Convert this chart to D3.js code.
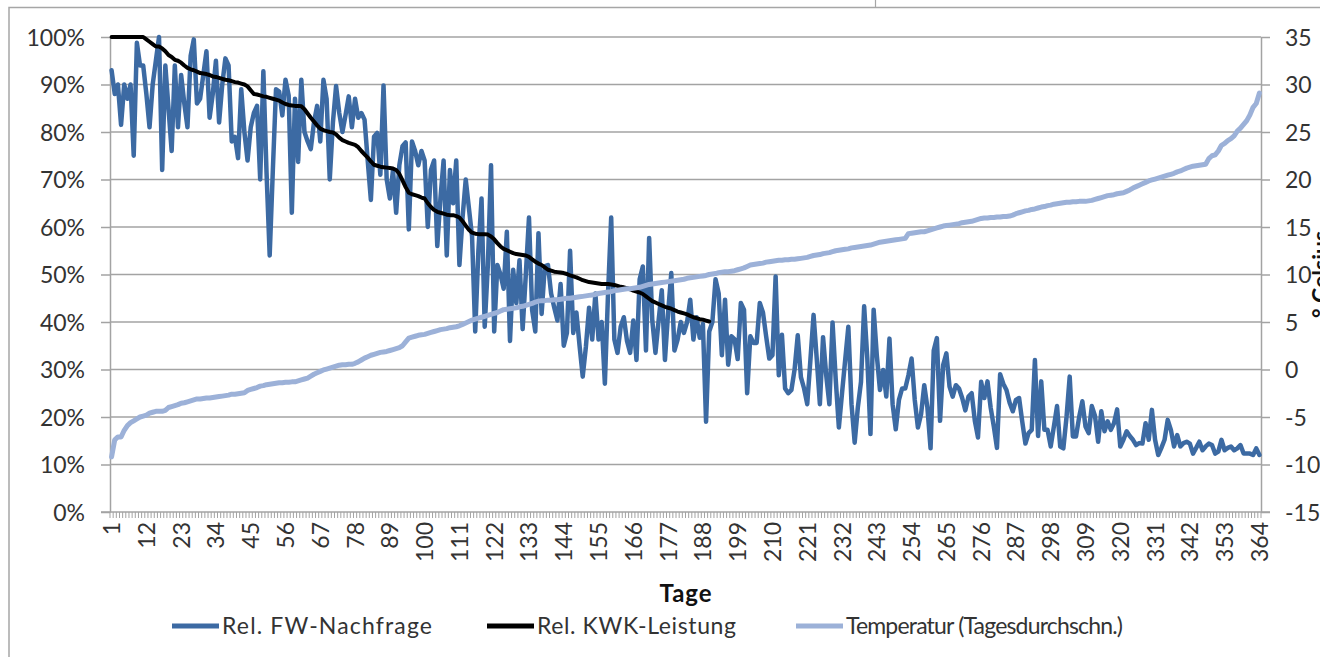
<!DOCTYPE html>
<html><head><meta charset="utf-8">
<script src="https://cdn.jsdelivr.net/npm/d3@7/dist/d3.min.js"></script>
<style>
html,body{margin:0;padding:0;background:#fff;}
svg{display:block;font-family:Lato,"Open Sans",sans-serif;}
</style></head><body>
<svg id="c" width="1320" height="657"></svg>
<script>
// ---------- DATA ----------
const seriesNames = ["Rel. FW-Nachfrage", "Rel. KWK-Leistung", "Temperatur (Tagesdurchschn.)"];
const xTickLabels = ["1","12","23","34","45","56","67","78","89","100","111","122","133","144","155","166","177","188","199","210","221","232","243","254","265","276","287","298","309","320","331","342","353","364"];
const leftTicks = [0,10,20,30,40,50,60,70,80,90,100];
const rightTicks = [-15,-10,-5,0,5,10,15,20,25,30,35];

const fwDemand = [
93,88,90,81.5,90,87,90,75,98.8,94,
94,88,81,90,95,100,72,94,85,76,
94,81,92,86,81,96,99.5,86,87,92,
97,83,88,95,82,90,95.5,94,78,79,
74.5,89,80,74,81,84,85.5,70,92.8,71.5,
54,72,89,88.5,83.5,91,87.7,63,87,73.7,
91,80,78,76.4,82,85.5,78,91,87,70,
82,89.7,84,80,83.6,87.5,81,87,83,84,
82.6,74,65.7,79,79.8,71,89.8,70,66,72,
63,73,77,77.8,59.5,78,76,73,76,74,
60,72,74,56,66,74,54,72,65,74,
52,62,70,64,58,38,55,66,39,52,
73,38,52,50,47,59,36,51,44,53,
38.5,50,62,42.5,38,58.7,41.7,51.7,52,46,
43,40.3,48,35,37.7,55,37.7,42,35,28.5,
34.8,43,36.3,46,36.3,40,27,46,62,36.3,
33.5,39,41,36,33.5,40.3,32,49,51.7,34,
57.7,40.3,33.5,40.3,46.7,32,42,50.3,34,36.3,
40,37.7,40,44.7,36.3,41,36.7,39.6,19,38,
40,49,46,33,44.7,31,37,36.4,32.2,44,
42.6,25,37,35.6,35.6,44,42,37,32.3,33,
49.6,28.8,37.3,26,25,25.7,30,37.2,28.4,26,
22.7,32,41.5,32.3,22.7,36.8,28.8,22.7,39.9,28,
17.8,25,32,39,22.7,14.6,22,27.4,43.3,32.3,
16.4,42.6,33,25.7,29.9,24.3,36.5,22.7,17.4,23.6,
26,26,28.8,32.3,23.6,17.8,20.6,26.7,22,13.4,
34,36.6,19.2,31,33.4,26.4,24.3,26.7,26,24,
21.4,24.3,25,19.2,15.7,27.4,24,27.5,22,18,
13.5,29,27,25.7,23,21.2,23.6,24,19,14.4,
16.6,17.3,32,16,27.5,17.3,17.3,13.8,18,22.3,
13.8,13.4,20,28.5,15.9,15.9,20,23.3,18,16.6,
22.3,20.2,14.8,21.2,17,19.1,17.3,18.7,21.6,13.8,
15.2,17,16,15.2,14.1,14.5,14.4,18.7,15.2,21.5,
15.2,12,13.5,15.2,19.4,17.3,13.8,16.2,13.8,14.5,
14.8,14.4,12.3,13.5,14.8,13,13.8,14.4,14.1,12.3,
12.7,15.2,13,13.5,13.8,13,13.4,14.1,12.3,12.3,
12.3,12,13.4,12
];

const kwkPower = [
100,100,100,100,100,100,100,100,100,100,
100,99.5,99,98.5,98,98,97.6,97,96.2,95.8,
95.2,95,94.6,94,93.5,93.2,93,92.7,92.4,92.3,
92.2,92,91.7,91.6,91.4,91.2,91,90.9,90.7,90.5,
90.4,90.2,90,89.6,88.8,88,87.9,87.7,87.5,87.4,
87.2,87,86.8,86.6,86.2,85.9,85.7,85.6,85.5,85.5,
85.4,84.8,83.9,83,82.2,81.4,80.7,80.4,80.2,80,
79.9,79.5,78.8,78.3,78,77.7,77.5,77.3,76.8,76,
75.3,74.6,73.8,73.1,72.9,72.7,72.6,72.5,72.4,72.3,
72,71.2,69.8,68.4,67.2,66.9,66.7,66.5,66.2,66,
65,64.2,63.6,63.2,63,62.8,62.6,62.5,62.5,62.3,
62,61.2,60.3,59.4,58.8,58.6,58.5,58.5,58.5,58.4,
58,57.4,56.6,55.9,55.4,55.1,54.8,54.5,54.3,54.2,
54.1,54,53.7,53.2,52.7,52.3,52,51.5,51,50.8,
50.6,50.5,50.4,50.3,50.1,49.8,49.6,49.4,49.1,48.8,
48.6,48.4,48.3,48.2,48.1,48,48,48,47.9,47.8,
47.6,47.4,47.3,47.1,46.9,46.6,46.4,46.2,45.9,45.4,
44.9,44.4,44.1,43.8,43.5,43.2,43,42.8,42.5,42.2,
42,41.8,41.6,41.3,41,40.8,40.6,40.5,40.3,40.1
];

const temperature = [
-9.2,-7.4,-7.1,-7.1,-6.4,-5.9,-5.6,-5.4,-5.2,-5.0,
-4.9,-4.8,-4.6,-4.5,-4.4,-4.4,-4.4,-4.3,-4.0,-3.9,
-3.8,-3.7,-3.55,-3.5,-3.4,-3.3,-3.2,-3.1,-3.1,-3.05,
-3.0,-3.0,-2.95,-2.9,-2.85,-2.8,-2.75,-2.7,-2.6,-2.6,
-2.55,-2.5,-2.45,-2.2,-2.1,-2.0,-1.9,-1.75,-1.7,-1.6,
-1.55,-1.5,-1.45,-1.4,-1.4,-1.35,-1.35,-1.3,-1.3,-1.2,
-1.1,-1.0,-0.9,-0.7,-0.5,-0.35,-0.2,-0.05,0.05,0.15,
0.25,0.35,0.45,0.5,0.5,0.55,0.55,0.65,0.8,1.0,
1.2,1.35,1.5,1.6,1.7,1.8,1.85,1.9,2.0,2.1,
2.2,2.3,2.5,2.9,3.3,3.4,3.5,3.6,3.65,3.7,
3.8,3.9,4.0,4.1,4.2,4.25,4.3,4.4,4.45,4.5,
4.6,4.75,4.9,5.05,5.2,5.3,5.4,5.5,5.6,5.7,
5.8,5.9,6.0,6.15,6.3,6.35,6.4,6.45,6.5,6.6,
6.65,6.75,6.85,6.95,7.1,7.2,7.25,7.25,7.3,7.3,
7.35,7.35,7.4,7.45,7.5,7.5,7.55,7.6,7.65,7.7,
7.75,7.8,7.85,7.9,8.0,8.05,8.1,8.15,8.2,8.3,
8.35,8.4,8.45,8.5,8.5,8.55,8.6,8.65,8.75,8.85,
8.95,9.0,9.05,9.1,9.15,9.2,9.25,9.3,9.35,9.4,
9.45,9.5,9.6,9.65,9.7,9.75,9.8,9.85,9.9,10.0,
10.05,10.1,10.2,10.25,10.3,10.3,10.35,10.4,10.5,10.6,
10.7,10.85,11.0,11.05,11.1,11.15,11.2,11.3,11.35,11.4,
11.45,11.5,11.5,11.55,11.55,11.6,11.6,11.65,11.7,11.75,
11.8,11.9,12.0,12.05,12.1,12.2,12.25,12.3,12.4,12.5,
12.55,12.6,12.65,12.7,12.8,12.85,12.9,12.95,13.0,13.05,
13.1,13.2,13.3,13.4,13.45,13.5,13.55,13.6,13.65,13.7,
13.75,13.8,14.3,14.35,14.4,14.45,14.5,14.5,14.6,14.7,
14.8,14.9,15.0,15.1,15.15,15.2,15.25,15.3,15.35,15.45,
15.5,15.55,15.6,15.7,15.8,15.9,15.95,15.95,16.0,16.0,
16.05,16.05,16.1,16.1,16.15,16.25,16.4,16.5,16.6,16.7,
16.75,16.85,16.9,17.0,17.1,17.15,17.25,17.3,17.4,17.45,
17.5,17.55,17.6,17.6,17.65,17.65,17.7,17.7,17.7,17.75,
17.8,17.9,18.0,18.1,18.2,18.3,18.35,18.4,18.5,18.55,
18.6,18.75,18.9,19.1,19.25,19.4,19.55,19.7,19.85,19.95,
20.05,20.15,20.25,20.35,20.45,20.55,20.65,20.8,20.9,21.05,
21.2,21.3,21.4,21.45,21.5,21.55,21.6,22.2,22.5,22.6,
23.0,23.6,23.8,24.1,24.3,24.6,25.1,25.4,25.8,26.2,
26.8,27.6,28.0,29.1
];

const days = fwDemand.map((_, i) => i + 1);

// ---------- LAYOUT ----------
const svg = d3.select("#c");
const L = 110, R = 1261, T = 37, B = 512;
const gridColor = "#a3a3a3";
const textColor = "#333";
const colors = ["#3c6aa3", "#000000", "#9cb1d8"];
const fs = 23;

// outer frame
svg.append("path").attr("d", "M9,660 V7.5 H1325").attr("fill", "none").attr("stroke", "#a6a6a6").attr("stroke-width", 1.5);
svg.append("line").attr("x1", 875.5).attr("x2", 875.5).attr("y1", 0).attr("y2", 7).attr("stroke", "#a6a6a6").attr("stroke-width", 1.2);

const x = d3.scaleBand().domain(days).range([L, R]).padding(0);
const cx = d => x(d) + x.bandwidth() / 2;
const yL = d3.scaleLinear().domain([0, 100]).range([B, T]);
const yR = d3.scaleLinear().domain([-15, 35]).range([B, T]);

// gridlines
svg.append("g").selectAll("line").data(leftTicks.filter(t => t > 0)).join("line")
  .attr("x1", L).attr("x2", R).attr("y1", d => yL(d)).attr("y2", d => yL(d))
  .attr("stroke", gridColor).attr("stroke-width", 1.5);

// left axis
const gL = svg.append("g").attr("transform", `translate(${L},0)`)
  .call(d3.axisLeft(yL).tickValues(leftTicks).tickFormat(d => d + "%").tickSizeInner(9).tickSizeOuter(0).tickPadding(16));
gL.select(".domain").attr("stroke", gridColor).attr("stroke-width", 1.5);
gL.selectAll(".tick line").attr("stroke", gridColor).attr("stroke-width", 1.5);
gL.selectAll(".tick text").attr("font-size", fs).attr("fill", textColor).attr("font-family", "Lato").attr("dy", "0.36em");

// right axis
const gR = svg.append("g").attr("transform", `translate(${R},0)`)
  .call(d3.axisRight(yR).tickValues(rightTicks).tickFormat(d => String(d)).tickSizeInner(9).tickSizeOuter(0).tickPadding(15));
gR.select(".domain").attr("stroke", gridColor).attr("stroke-width", 1.5);
gR.selectAll(".tick line").attr("stroke", gridColor).attr("stroke-width", 1.5);
gR.selectAll(".tick text").attr("font-size", fs).attr("fill", textColor).attr("font-family", "Lato").attr("dy", "0.36em");

// x axis
svg.append("line").attr("x1", L - 9).attr("x2", R + 9).attr("y1", B).attr("y2", B)
  .attr("stroke", gridColor).attr("stroke-width", 1.5);
const tickPos = days.map(d => x(d)).concat([R]);
svg.append("g").selectAll("line").data(tickPos).join("line")
  .attr("x1", d => d).attr("x2", d => d).attr("y1", B).attr("y2", B + 6)
  .attr("stroke", gridColor).attr("stroke-width", 1);
svg.append("g").selectAll("text").data(xTickLabels).join("text")
  .attr("transform", d => `translate(${cx(+d) + 8.5},${B + 10}) rotate(-90)`)
  .attr("text-anchor", "end").attr("font-size", fs).attr("fill", textColor)
  .text(d => d);

// axis titles
svg.append("text").attr("x", (L + R) / 2).attr("y", 602).attr("text-anchor", "middle")
  .attr("font-size", 24).attr("font-weight", "bold").attr("fill", "#111")
  .attr("textLength", 52).attr("lengthAdjust", "spacing").text("Tage");
svg.append("text").attr("transform", `translate(1329,${(T + B) / 2}) rotate(-90)`)
  .attr("text-anchor", "middle").attr("font-size", 23).attr("font-weight", "bold").attr("fill", "#111").text("° Celsius");

// series lines
const lineL = d3.line().x((v, i) => cx(days[i])).y(v => yL(v));
const lineR = d3.line().x((v, i) => cx(days[i])).y(v => yR(v));
svg.append("path").attr("d", lineL(fwDemand)).attr("fill", "none").attr("stroke", colors[0])
  .attr("stroke-width", 4.5).attr("stroke-linejoin", "round").attr("stroke-linecap", "round");
svg.append("path").attr("d", lineL(kwkPower)).attr("fill", "none").attr("stroke", colors[1])
  .attr("stroke-width", 4).attr("stroke-linejoin", "round").attr("stroke-linecap", "round");
svg.append("path").attr("d", lineR(temperature)).attr("fill", "none").attr("stroke", colors[2])
  .attr("stroke-width", 5).attr("stroke-linejoin", "round").attr("stroke-linecap", "round");

// legend
const legX = [172, 487, 796];
const legLen = [210, 199, 277];
const leg = svg.append("g").selectAll("g").data(seriesNames).join("g")
  .attr("transform", (d, i) => `translate(${legX[i]},626)`);
leg.append("line").attr("x1", 0).attr("x2", 47).attr("y1", 0).attr("y2", 0)
  .attr("stroke", (d, i) => colors[i]).attr("stroke-width", 5);
leg.append("text").attr("x", 50).attr("y", 0).attr("dy", "0.36em")
  .attr("font-size", 23).attr("fill", textColor)
  .attr("textLength", (d, i) => legLen[i]).attr("lengthAdjust", "spacing")
  .text(d => d);
</script>
</body></html>
